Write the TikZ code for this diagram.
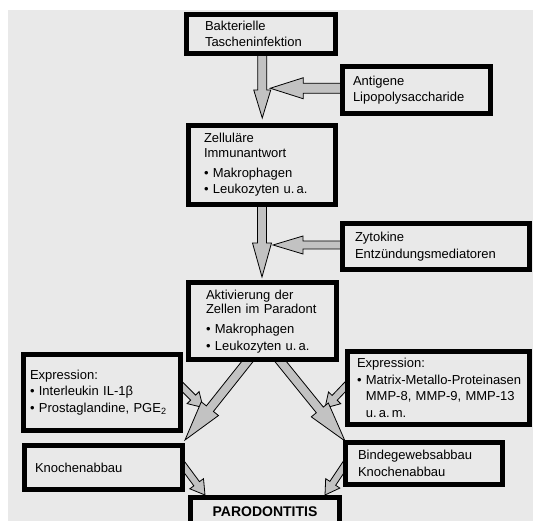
\documentclass[tikz,border=0pt]{standalone}
\usepackage{fontspec}
\setmainfont{Liberation Sans}
\usetikzlibrary{calc,backgrounds}

\definecolor{grund}{gray}{0.915}
\definecolor{pfeilgrau}{gray}{0.76}

% #1 start, #2 tip, #3 half shaft, #4 half head, #5 head length
\newcommand{\blockpfeil}[5]{%
  \coordinate (bs) at ($(#1)!-6pt!(#2)$);
  \coordinate (bh) at ($(#2)!#5!(#1)$);
  \draw[pfeil] ($(bs)!#3!90:(#2)$) -- ($(bh)!#3!90:(#2)$) -- ($(bh)!#4!90:(#2)$) -- (#2)
    -- ($(bh)!#4!-90:(#2)$) -- ($(bh)!#3!-90:(#2)$) -- ($(bs)!#3!-90:(#2)$) -- cycle;
}

\begin{document}
\begin{tikzpicture}[x=1pt,y=-1pt,font=\fontsize{13}{16.5}\selectfont,
  kasten/.style={draw,fill=grund,line width=5pt,align=left,anchor=north west,inner ysep=0pt},
  pfeil/.style={draw=black,fill=pfeilgrau,line width=.8pt,line join=miter}]

\useasboundingbox (0,0) rectangle (533,521);
\clip (0,0) rectangle (533,521);

\begin{pgfonlayer}{background}
\fill[grund] (8,10) rectangle (533,521);
\end{pgfonlayer}

\node[kasten,inner xsep=19pt,text width=111.5pt,minimum height=39pt] (bakt) at (183.5,12)
  {Bakterielle\\Tascheninfektion};
\node[kasten,inner xsep=10.5pt,text width=127pt,minimum height=47.5pt] (anti) at (340,64)
  {Antigene\\Lipopolysaccharide};
\node[kasten,inner xsep=15.5pt,text width=116pt,minimum height=79pt] (zell) at (186,123)
  {Zelluläre\\[-2pt]Immunantwort\\[3.5pt]• Makrophagen\\• Leukozyten u.\,a.};
\node[kasten,inner xsep=12.5pt,text width=162pt,minimum height=46pt] (zyto) at (340,221)
  {Zytokine\\Entzündungsmediatoren};
\node[kasten,inner xsep=17.5pt,text width=113pt,minimum height=76.5pt] (akt) at (186,280.5)
  {Aktivierung der\\[-2pt]Zellen im Paradont\\[3.5pt]• Makrophagen\\• Leukozyten u.\,a.};
\node[kasten,inner xsep=6.5pt,text width=144pt,minimum height=76pt] (exli) at (21,352)
  {Expression:\\• Interleukin IL-1β\\• Prostaglandine, PGE\textsubscript{2}};
\node[kasten,inner xsep=9.5pt,text width=163pt,minimum height=73pt] (exre) at (345,349)
  {Expression:\\\mbox{• Matrix-Metallo-Proteinasen}\\\phantom{•\ }MMP-8, MMP-9, MMP-13\\\phantom{•\ }u.\,a.\,m.};
\node[kasten,inner xsep=10.5pt,text width=137pt,minimum height=44pt] (knli) at (22,443)
  {Knochenabbau};
\node[kasten,inner xsep=12.5pt,text width=132pt,minimum height=42pt] (binde) at (343,440)
  {Bindegewebsabbau\\Knochenabbau};
\node[kasten,inner xsep=0pt,text width=149pt,align=center,minimum height=29pt,
  font=\fontsize{14}{16}\selectfont\bfseries] (paro) at (188,495) {PARODONTITIS};

\coordinate (a1s) at ($(bakt.south)+(1.5,0)$);
\coordinate (a1e) at ($(a1s |- zell.north)+(0,-5)$);
\coordinate (a2s) at ($(anti.west)+(0,-2)$);
\coordinate (a2e) at ($(a1s |- a2s)+(8,0)$);
\coordinate (a3s) at (zell.south);
\coordinate (a3e) at ($(a3s |- akt.north)+(0,-3.5)$);
\coordinate (a4s) at ($(zyto.west)+(0,-1.5)$);
\coordinate (a4e) at ($(a3s |- a4s)+(11,0)$);
\coordinate (a5s) at ($(akt.south)+(-15.5,0)$);
\coordinate (a5e) at ($(knli.north east)+(0,-3)$);
\coordinate (a6s) at ($(akt.south)+(18.5,0)$);
\coordinate (a6e) at ($(binde.north west)+(2,1)$);
\coordinate (a7s) at ($(exli.east)+(0,-5)$);
\coordinate (a7e) at ($(a7s)+(20,20)$);
\coordinate (a8s) at ($(exre.west)+(0,-1)$);
\coordinate (a8e) at ($(a8s)+(-20,21)$);
\coordinate (a9s) at ($(knli.east)+(0,0.5)$);
\coordinate (a9e) at ($(paro.north west)+(17,0)$);
\coordinate (a10s) at ($(binde.west)+(0,4.5)$);
\coordinate (a10e) at ($(paro.north east)+(-17,0)$);

\begin{pgfonlayer}{background}
\blockpfeil{a1s}{a1e}{4.5pt}{8.5pt}{28pt}
\blockpfeil{a2s}{a2e}{5pt}{10.5pt}{33pt}
\blockpfeil{a3s}{a3e}{4.5pt}{9.5pt}{34pt}
\blockpfeil{a4s}{a4e}{4pt}{9pt}{30pt}
\blockpfeil{a7s}{a7e}{3.5pt}{8.5pt}{14pt}
\blockpfeil{a8s}{a8e}{3.5pt}{8.5pt}{14pt}
\blockpfeil{a5s}{a5e}{4.5pt}{11pt}{40pt}
\blockpfeil{a6s}{a6e}{4.5pt}{11pt}{40pt}
\blockpfeil{a9s}{a9e}{3.5pt}{8.5pt}{14pt}
\blockpfeil{a10s}{a10e}{3.5pt}{8.5pt}{14pt}
\end{pgfonlayer}

\end{tikzpicture}
\end{document}
